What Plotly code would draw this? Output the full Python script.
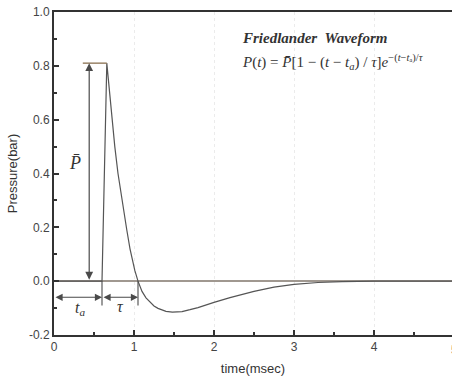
import plotly.graph_objects as go

# Waveform values
time_ms = [0, 0.60, 0.66, 0.69, 0.73, 0.76, 0.80, 0.85, 0.91, 0.95, 0.98, 1.01,
           1.05, 1.10, 1.15, 1.20, 1.25, 1.30, 1.35, 1.40, 1.48, 1.60, 1.70,
           1.80, 2.00, 2.20, 2.50, 2.75, 3.00, 3.30, 3.60, 4.00, 5.00]
pressure = [0, 0, 0.81, 0.71, 0.60, 0.50, 0.40, 0.30, 0.19, 0.12, 0.08, 0.04,
            0.0, -0.038, -0.062, -0.079, -0.092, -0.101, -0.108, -0.112, -0.115,
            -0.113, -0.106, -0.098, -0.079, -0.061, -0.038, -0.022, -0.012,
            -0.005, -0.002, 0, 0]

# Key parameters
t_a = 0.60
tau = 0.45
p_bar = 0.81

x_ticks = [0, 1, 2, 3, 4]
y_ticks = [-0.2, 0.0, 0.2, 0.4, 0.6, 0.8, 1.0]
y_tick_labels = ["-0.2", "0.0", "0.2", "0.4", "0.6", "0.8", "1.0"]

ink = "#4a4a4a"
axis_col = "#333333"

fig = go.Figure()
fig.add_trace(go.Scatter(x=time_ms, y=pressure, mode="lines",
                         line=dict(color="#555555", width=1.2),
                         showlegend=False, hoverinfo="skip"))

dim_y = -0.06
annos = [
    # P-bar double arrow
    dict(x=0.44, y=p_bar, ax=0.44, ay=0, xref="x", yref="y", axref="x", ayref="y",
         showarrow=True, arrowhead=2, arrowside="end+start", arrowsize=1.3,
         arrowwidth=1.2, arrowcolor=ink, text=""),
    # t_a double arrow
    dict(x=t_a, y=dim_y, ax=0, ay=dim_y, xref="x", yref="y", axref="x", ayref="y",
         showarrow=True, arrowhead=2, arrowside="end+start", arrowsize=1.3,
         arrowwidth=1.1, arrowcolor=ink, text=""),
    # tau double arrow
    dict(x=t_a + tau, y=dim_y, ax=t_a, ay=dim_y, xref="x", yref="y", axref="x", ayref="y",
         showarrow=True, arrowhead=2, arrowside="end+start", arrowsize=1.3,
         arrowwidth=1.1, arrowcolor=ink, text=""),
    dict(x=0.26, y=0.44, xref="x", yref="y", showarrow=False,
         text="<i>P̄</i>", font=dict(family="Liberation Serif", size=18, color="#333")),
    dict(x=0.33, y=-0.10, xref="x", yref="y", showarrow=False,
         text="<i>t<sub>a</sub></i>", font=dict(family="Liberation Serif", size=16, color="#333")),
    dict(x=t_a + tau / 2, y=-0.095, xref="x", yref="y", showarrow=False,
         text="<i>τ</i>", font=dict(family="Liberation Serif", size=16, color="#333")),
    dict(x=2.33, y=0.905, xref="x", yref="y", showarrow=False, xanchor="left",
         text="<b><i>Friedlander  Waveform</i></b>",
         font=dict(family="Liberation Serif", size=15, color="#333")),
    dict(x=2.33, y=0.815, xref="x", yref="y", showarrow=False, xanchor="left",
         text="<i>P</i>(<i>t</i>) = <i>P̄</i>[1 − (<i>t</i> − <i>t<sub>a</sub></i>) / <i>τ</i>]<i>e</i><sup>−(<i>t</i>−<i>t</i>ₐ)/<i>τ</i></sup>",
         font=dict(family="Liberation Serif", size=15, color="#333")),
    # partially visible last x tick label
    dict(x=1.0, y=0, xref="paper", yref="paper", yanchor="top", yshift=-6,
         xanchor="center", xshift=2, showarrow=False, text="5",
         font=dict(family="Liberation Sans", size=12, color="#444")),
]

shapes = [
    dict(type="line", xref="x", yref="y", x0=0.36, x1=0.66, y0=p_bar, y1=p_bar,
         line=dict(color="#8a7050", width=1.3)),
    dict(type="line", xref="x", yref="y", x0=t_a, x1=t_a, y0=0, y1=-0.09,
         line=dict(color=ink, width=1.1)),
    dict(type="line", xref="x", yref="y", x0=t_a + tau, x1=t_a + tau, y0=0, y1=-0.09,
         line=dict(color=ink, width=1.1)),
]

fig.update_layout(
    width=452, height=381,
    margin=dict(l=54, r=0, t=12, b=46),
    paper_bgcolor="white", plot_bgcolor="white",
    annotations=annos, shapes=shapes,
    font=dict(family="Liberation Sans", size=12, color="#444"),
    xaxis=dict(range=[0, 4.975], tickvals=x_ticks, ticks="inside", ticklen=5,
               tickcolor=axis_col, tickwidth=1.5,
               showline=True, linecolor=axis_col, linewidth=2, mirror=True,
               showgrid=True, gridcolor="#ebebeb", griddash="dot", gridwidth=1,
               zeroline=False,
               minor=dict(dtick=0.5, ticks="inside", ticklen=3, tickcolor=axis_col, showgrid=False),
               title=dict(text="time(msec)", font=dict(size=13, color="#333"), standoff=10),
               tickfont=dict(size=12, color="#444")),
    yaxis=dict(range=[-0.2, 1.0], tickvals=y_ticks, ticktext=y_tick_labels,
               ticks="inside", ticklen=5, tickcolor=axis_col, tickwidth=1.5,
               showline=True, linecolor=axis_col, linewidth=2, mirror=False,
               showgrid=False, zeroline=True, zerolinecolor="#a09890", zerolinewidth=1.6,
               minor=dict(dtick=0.1, ticks="inside", ticklen=3, tickcolor=axis_col),
               title=dict(text="Pressure(bar)", font=dict(size=13, color="#333"), standoff=8),
               tickfont=dict(size=12, color="#444")),
)

fig.write_html("out.html")
